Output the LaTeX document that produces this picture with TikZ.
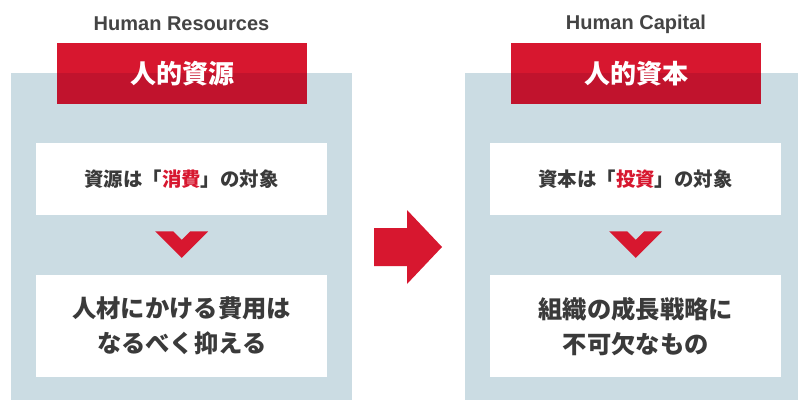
\documentclass[tikz,border=0pt]{standalone}
\usepackage{fontspec}
\setmainfont{Liberation Sans}
\newfontfamily\cjk{Noto Sans CJK JP}
\usetikzlibrary{calc}
\definecolor{panelblue}{HTML}{CBDCE3}
\definecolor{brandred}{HTML}{D7172F}
\definecolor{darkred}{HTML}{C1132D}
\definecolor{txt}{HTML}{3A3A3A}
\definecolor{ttl}{HTML}{444444}
\begin{document}
\begin{tikzpicture}[x=1pt,y=-1pt,
  panel/.style={fill=panelblue, draw=none, inner sep=0pt, anchor=north west},
  tagbox/.style={fill=brandred, draw=none, inner sep=0pt, anchor=north west, minimum width=250pt, minimum height=61pt},
  whitebox/.style={fill=white, draw=none, inner sep=0pt, anchor=north west, minimum width=291pt},
  title/.style={font=\bfseries\fontsize{20}{24}\selectfont, text=ttl, inner sep=0pt},
  tagtext/.style={font=\cjk\bfseries\fontsize{26}{30}\selectfont, text=white, inner sep=0pt},
  smalltext/.style={font=\cjk\bfseries\fontsize{19.4}{22}\selectfont, text=txt, inner sep=0pt},
  bigtext/.style={font=\cjk\bfseries\fontsize{24.3}{35}\selectfont, text=txt, inner sep=0pt, align=center},
  chev/.style={fill=brandred, draw=none}
]
\useasboundingbox (0,0) rectangle (798,401);
\fill[white] (0,0) rectangle (798,401);

% ---------- left panel ----------
\node[panel, minimum width=341pt, minimum height=327pt] (lpanel) at (11,73) {};
\node[title] (ltitle) at (181.5,24) {Human Resources};
\node[tagbox] (ltag) at (57,43) {};
\fill[darkred] (ltag.west |- lpanel.north) rectangle (ltag.south east);
\node[tagtext] (ltagt) at (182,74) {人的資源};
\node[whitebox, minimum height=72pt] (lbox1) at (36,143) {};
\node[smalltext] (lbox1t) at (181.5,179.5) {資源は「\textcolor{brandred}{消費}」の対象};
\node[whitebox, minimum height=102pt] (lbox2) at (36,275) {};
\node[bigtext] (lbox2t) at (lbox2.center) {人材にかける費用は\\なるべく抑える};
\coordinate (lchev) at ($(lbox1.south)+(0,16)$);
\fill[chev] (lchev) ++(-26.5,0) -- ++(18,0) -- ++(8.5,8.5) -- ++(8.5,-8.5) -- ++(18,0) -- ++(-26.5,26.5) -- cycle;

% ---------- right panel ----------
\node[panel, minimum width=333pt, minimum height=327pt] (rpanel) at (465,73) {};
\node[title] (rtitle) at (636,24) {Human Capital};
\node[tagbox] (rtag) at (511,43) {};
\fill[darkred] (rtag.west |- rpanel.north) rectangle (rtag.south east);
\node[tagtext] (rtagt) at (636,74) {人的資本};
\node[whitebox, minimum height=72pt] (rbox1) at (490,143) {};
\node[smalltext] (rbox1t) at (635.5,179.5) {資本は「\textcolor{brandred}{投資}」の対象};
\node[whitebox, minimum height=102pt] (rbox2) at (490,275) {};
\node[bigtext] (rbox2t) at (rbox2.center) {組織の成長戦略に\\不可欠なもの};
\coordinate (rchev) at ($(rbox1.south)+(0,16)$);
\fill[chev] (rchev) ++(-26.5,0) -- ++(18,0) -- ++(8.5,8.5) -- ++(8.5,-8.5) -- ++(18,0) -- ++(-26.5,26.5) -- cycle;

% ---------- big arrow ----------
\coordinate (atail) at (374,247);
\coordinate (atip) at (442,247);
\fill[brandred] (atail) ++(0,-19) -- ++(33,0) -- ++(0,-18) -- (atip) -- ++(-35,37) -- ++(0,-18) -- ++(-33,0) -- cycle;
\end{tikzpicture}
\end{document}
